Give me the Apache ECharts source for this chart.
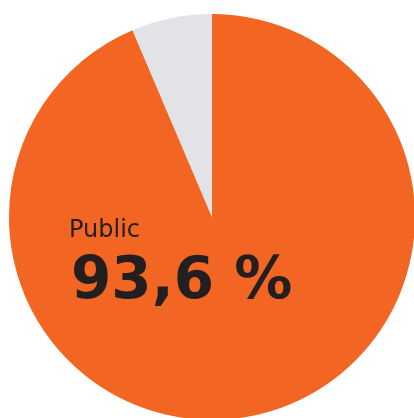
<!DOCTYPE html>
<html>
<head>
<meta charset="utf-8">
<script src="https://cdn.jsdelivr.net/npm/echarts@6/dist/echarts.min.js"></script>
<style>
html, body { margin: 0; padding: 0; background: #fff; }
#chart { width: 414px; height: 418px; }
</style>
</head>
<body>
<div id="chart"></div>
<script>
var categories = ['Public', 'Other'];
var values = [93.6, 6.4];
var colors = ['#F26522', '#E1E3E6'];

var chart = echarts.init(document.getElementById('chart'));

var pct = String(values[0]).replace('.', ',') + ' %';

chart.setOption({
    animation: false,
    title: [{
        text: categories[0],
        left: 64,
        top: 214,
        textStyle: {
            fontFamily: 'DejaVu Sans',
            fontWeight: 'normal',
            fontSize: 24,
            color: '#231F20'
        }
    }, {
        text: pct,
        left: 66,
        top: 249,
        textStyle: {
            fontFamily: 'DejaVu Sans',
            fontWeight: 'bold',
            fontSize: 58,
            color: '#231F20'
        }
    }],
    series: [{
        type: 'pie',
        center: [212, 217],
        radius: 203,
        startAngle: 90,
        clockwise: true,
        label: { show: false },
        labelLine: { show: false },
        emphasis: { disabled: true },
        data: categories.map(function (c, i) {
            return { name: c, value: values[i], itemStyle: { color: colors[i] } };
        })
    }]
});
</script>
</body>
</html>
